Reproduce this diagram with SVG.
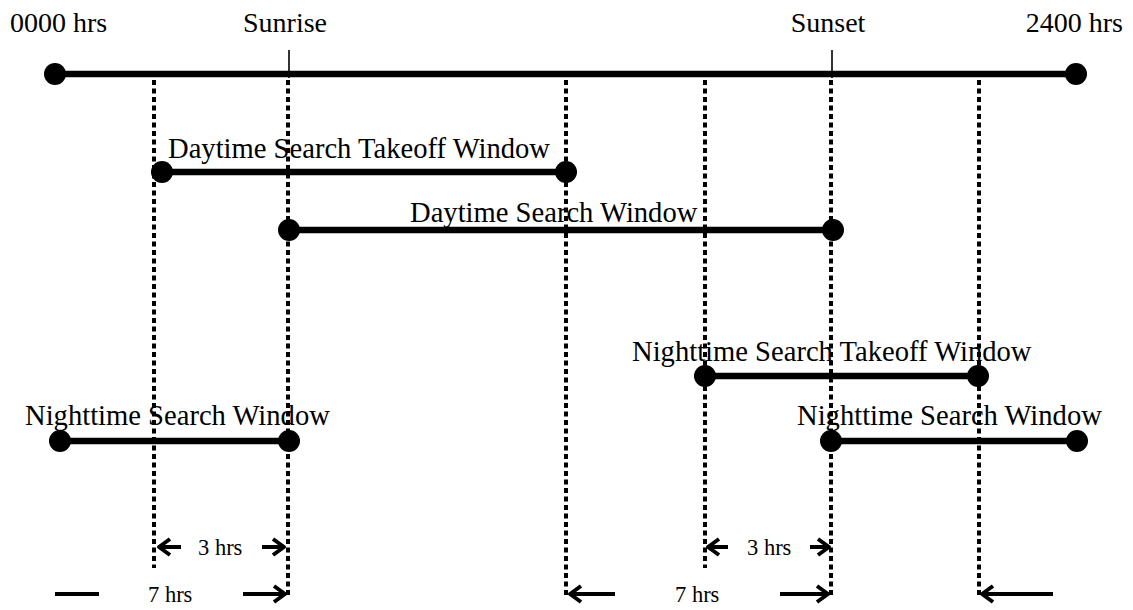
<svg xmlns="http://www.w3.org/2000/svg" width="1133" height="610" viewBox="0 0 1133 610">
<defs>
<style>
text{font-family:"Liberation Serif","Times New Roman",serif;fill:#000}
.big{font-size:28px}
.win{font-size:28.6px}
.sm{font-size:22.5px}
.bar{stroke:#000;stroke-width:6.5;fill:none}
.tick{stroke:#000;stroke-width:1.6}
.dot{stroke:#000;stroke-width:4;stroke-dasharray:5 3.5;fill:none}
.arr{stroke:#000;stroke-width:4;fill:none}
</style>
<marker id="ah" markerUnits="userSpaceOnUse" markerWidth="24" markerHeight="24" refX="13" refY="12" orient="auto" overflow="visible">
<path d="M2,4 L13,12 L2,20" fill="none" stroke="#000" stroke-width="4" stroke-linejoin="round"/>
</marker>
</defs>
<rect width="1133" height="610" fill="#fff"/>

<g id="connectors">
<line class="dot" x1="154" y1="80" x2="154" y2="568"/>
<line class="dot" x1="288" y1="80" x2="288" y2="598"/>
<line class="dot" x1="566" y1="80" x2="566" y2="598"/>
<line class="dot" x1="705" y1="80" x2="705" y2="568"/>
<line class="dot" x1="831" y1="80" x2="831" y2="598"/>
<line class="dot" x1="979" y1="80" x2="979" y2="598"/>
<!-- 3 hrs -->
<line class="arr" x1="181" y1="547" x2="159" y2="547" marker-end="url(#ah)"/>
<line class="arr" x1="262" y1="547" x2="284" y2="547" marker-end="url(#ah)"/>
<line class="arr" x1="728" y1="547" x2="708" y2="547" marker-end="url(#ah)"/>
<line class="arr" x1="810" y1="547" x2="829" y2="547" marker-end="url(#ah)"/>
<!-- 7 hrs -->
<line class="arr" x1="55" y1="594" x2="99" y2="594"/>
<line class="arr" x1="243" y1="594" x2="285" y2="594" marker-end="url(#ah)"/>
<line class="arr" x1="615" y1="594" x2="570" y2="594" marker-end="url(#ah)"/>
<line class="arr" x1="780" y1="594" x2="828" y2="594" marker-end="url(#ah)"/>
<line class="arr" x1="1053" y1="594" x2="982" y2="594" marker-end="url(#ah)"/>
</g>

<g id="timeline">
<line class="bar" x1="55" y1="74" x2="1076" y2="74"/>
<circle cx="55" cy="74" r="11"/>
<circle cx="1076" cy="74" r="11"/>
<line class="tick" x1="289" y1="50" x2="289" y2="78"/>
<line class="tick" x1="832" y1="50" x2="832" y2="78"/>
<text class="big" x="10" y="32">0000 hrs</text>
<text class="big" x="285" y="32" text-anchor="middle">Sunrise</text>
<text class="big" x="828" y="32" text-anchor="middle">Sunset</text>
<text class="big" x="1123" y="32" text-anchor="end">2400 hrs</text>
</g>

<g id="day-takeoff">
<line class="bar" x1="162" y1="172" x2="566" y2="172"/>
<circle cx="162" cy="172" r="11"/>
<circle cx="566" cy="172" r="11"/>
<text class="win" x="168" y="158">Daytime Search Takeoff Window</text>
</g>

<g id="day-search">
<line class="bar" x1="289" y1="230" x2="833" y2="230"/>
<circle cx="289" cy="230" r="11"/>
<circle cx="833" cy="230" r="11"/>
<text class="win" x="410" y="222">Daytime Search Window</text>
</g>

<g id="night-takeoff">
<line class="bar" x1="705" y1="376" x2="978" y2="376"/>
<circle cx="705" cy="376" r="11"/>
<circle cx="978" cy="376" r="11"/>
<text class="win" x="632" y="361">Nighttime Search Takeoff Window</text>
</g>

<g id="night-search-left">
<line class="bar" x1="60" y1="441" x2="289" y2="441"/>
<circle cx="60" cy="441" r="11"/>
<circle cx="289" cy="441" r="11"/>
<text class="win" x="25" y="425">Nighttime Search Window</text>
</g>

<g id="night-search-right">
<line class="bar" x1="831" y1="441" x2="1077" y2="441"/>
<circle cx="831" cy="441" r="11"/>
<circle cx="1077" cy="441" r="11"/>
<text class="win" x="797" y="425">Nighttime Search Window</text>
</g>

<g id="labels">
<text class="sm" x="198" y="555">3 hrs</text>
<text class="sm" x="747" y="555">3 hrs</text>
<text class="sm" x="148" y="602">7 hrs</text>
<text class="sm" x="675" y="602">7 hrs</text>
</g>
</svg>
